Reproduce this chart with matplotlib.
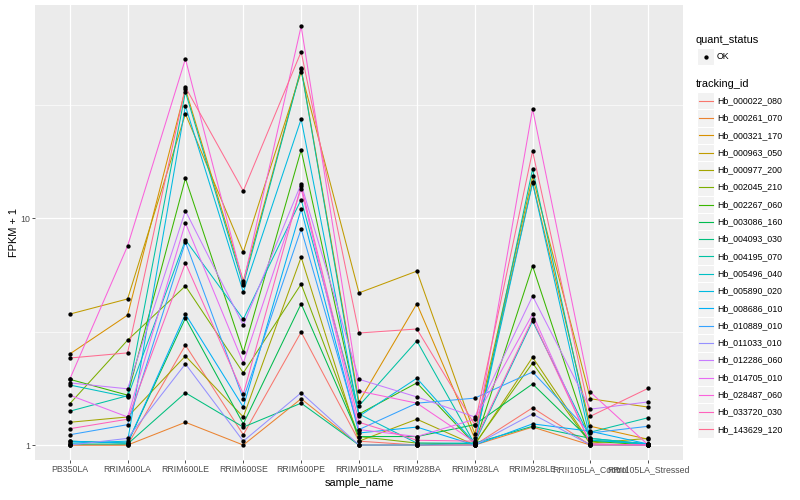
import numpy as np
import matplotlib
matplotlib.use("Agg")
import matplotlib.pyplot as plt
from matplotlib.patches import Rectangle

plt.rcParams['font.family'] = ['Liberation Sans', 'DejaVu Sans']

# samples on the x axis
sample_name = ["PB350LA", "RRIM600LA", "RRIM600LE", "RRIM600SE", "RRIM600PE",
               "RRIM901LA", "RRIM928BA", "RRIM928LA", "RRIM928LE",
               "RRII105LA_Control", "RRII105LA_Stressed"]

tracking_id = ["Hb_000022_080", "Hb_000261_070", "Hb_000321_170", "Hb_000963_050",
               "Hb_000977_200", "Hb_002045_210", "Hb_002267_060", "Hb_003086_160",
               "Hb_004093_030", "Hb_004195_070", "Hb_005496_040", "Hb_005890_020",
               "Hb_008686_010", "Hb_010889_010", "Hb_011033_010", "Hb_012286_060",
               "Hb_014705_010", "Hb_028487_060", "Hb_033720_030", "Hb_143629_120"]

# FPKM + 1, one row per tracking_id, one column per sample
fpkm_plus_one = [
    [1.00, 1.00, 2.76, 1.11, 3.15, 1.04, 1.00, 1.00, 1.46, 1.00, 1.00],
    [1.00, 1.00, 1.26, 1.00, 1.60, 1.00, 1.00, 1.00, 1.20, 1.00, 1.00],
    [2.52, 3.74, 37.2, 5.29, 46.0, 1.55, 4.20, 1.07, 14.4, 1.21, 1.06],
    [3.78, 4.41, 28.9, 7.10, 44.2, 4.69, 5.85, 1.12, 15.3, 1.60, 1.47],
    [1.26, 1.33, 2.47, 1.33, 6.74, 1.04, 1.30, 1.00, 2.44, 1.02, 1.07],
    [1.52, 2.90, 5.03, 2.08, 5.13, 1.09, 1.02, 1.01, 2.30, 1.01, 1.00],
    [1.95, 1.66, 15.0, 2.57, 20.0, 1.37, 1.88, 1.01, 6.16, 1.04, 1.00],
    [1.04, 1.02, 3.63, 1.24, 4.20, 1.09, 1.09, 1.23, 1.86, 1.05, 1.01],
    [1.01, 1.01, 1.70, 1.20, 1.53, 1.00, 1.00, 1.02, 1.21, 1.07, 1.01],
    [1.41, 1.65, 36.1, 5.08, 45.6, 1.49, 2.88, 1.01, 16.5, 1.14, 1.32],
    [1.84, 1.63, 8.03, 3.59, 12.1, 1.37, 1.02, 1.02, 3.52, 1.07, 1.01],
    [1.02, 1.04, 31.3, 4.73, 27.4, 1.34, 1.97, 1.02, 14.3, 1.05, 1.01],
    [1.04, 1.02, 3.78, 1.47, 11.0, 1.13, 1.20, 1.00, 1.24, 1.15, 1.01],
    [1.11, 1.23, 7.86, 1.60, 8.97, 1.17, 1.53, 1.61, 2.10, 1.13, 1.21],
    [1.00, 1.07, 2.28, 1.04, 1.70, 1.00, 1.00, 1.00, 1.37, 1.00, 1.00],
    [1.88, 1.77, 10.8, 3.38, 14.2, 1.95, 1.63, 1.33, 4.54, 1.44, 1.55],
    [1.66, 1.33, 9.54, 2.30, 13.5, 1.17, 1.09, 1.30, 3.78, 1.01, 1.00],
    [1.95, 7.55, 50.5, 5.18, 70.4, 1.73, 1.53, 1.03, 30.4, 1.71, 1.00],
    [1.18, 1.30, 6.35, 1.68, 13.9, 1.26, 1.05, 1.04, 3.59, 1.01, 1.00],
    [2.42, 2.55, 37.9, 13.2, 54.3, 3.12, 3.25, 1.23, 19.8, 1.34, 1.78],
]

# ggplot2 default hue palette for 20 levels
colors = ["#F8766D", "#EA8331", "#D89000", "#C09B00", "#A3A500", "#7CAE00",
          "#39B600", "#00BB4E", "#00BF7D", "#00C1A3", "#00BFC4", "#00BAE0",
          "#00B0F6", "#35A2FF", "#9590FF", "#C77CFF", "#E76BF3", "#FA62DB",
          "#FF62BC", "#FF6C91"]

fig = plt.figure(figsize=(8, 5), dpi=100)
ax = fig.add_axes([35 / 800, 40 / 500, 648 / 800, 455 / 500])
ax.set_facecolor("#EBEBEB")

x = np.arange(1, len(sample_name) + 1)
for vals, col in zip(fpkm_plus_one, colors):
    ax.plot(x, vals, color=col, lw=0.75, zorder=2)
for vals in fpkm_plus_one:
    ax.plot(x, vals, ls="none", marker="o", ms=2.1, color="black", zorder=3)

ax.set_yscale("log")
ax.set_ylim(0.859, 87.3)
ax.set_xlim(0.4, len(sample_name) + 0.6)
ax.set_yticks([1, 10])
ax.set_yticklabels(["1", "10"])
ax.set_yticks([10 ** 0.5, 10 ** 1.5], minor=True)
ax.yaxis.set_minor_formatter(matplotlib.ticker.NullFormatter())
ax.set_xticks(x)
ax.set_xticklabels(sample_name)

ax.grid(which="major", color="white", lw=0.9, zorder=0)
ax.grid(which="minor", axis="y", color="white", lw=0.45, zorder=0)
ax.set_axisbelow(True)
for s in ax.spines.values():
    s.set_visible(False)
ax.tick_params(which="major", length=2.0, width=0.6, color="#333333",
               labelcolor="#4D4D4D", labelsize=6.3, pad=1.6)
ax.tick_params(which="minor", length=0)

ax.set_xlabel("sample_name", fontsize=7.9, labelpad=3)
ax.set_ylabel("FPKM + 1", fontsize=7.9, labelpad=1)

# legend drawn in pixel coordinates
lax = fig.add_axes([0, 0, 1, 1])
lax.set_xlim(0, 800)
lax.set_ylim(500, 0)
lax.axis("off")
lax.patch.set_alpha(0)

key_x, key_w = 697, 17.3
lax.text(key_x - 1, 40, "quant_status", fontsize=7.9, va="center", ha="left")
lax.add_patch(Rectangle((key_x, 56.7 - key_w / 2), key_w, key_w,
                        facecolor="#F2F2F2", edgecolor="white", lw=0.8))
lax.plot([key_x + key_w / 2], [56.7], marker="o", ms=2.1, color="black")
lax.text(key_x + 20, 56.7, "OK", fontsize=6.3, va="center", ha="left")

lax.text(key_x - 1, 84, "tracking_id", fontsize=7.9, va="center", ha="left")
for i, (name, col) in enumerate(zip(tracking_id, colors)):
    yc = 100.7 + i * key_w
    lax.add_patch(Rectangle((key_x, yc - key_w / 2), key_w, key_w,
                            facecolor="#F2F2F2", edgecolor="white", lw=0.8))
    lax.plot([key_x + 1.5, key_x + key_w - 1.5], [yc, yc], color=col, lw=0.8)
    lax.text(key_x + 20, yc, name, fontsize=6.3, va="center", ha="left")

fig.savefig("out.png", dpi=100)
